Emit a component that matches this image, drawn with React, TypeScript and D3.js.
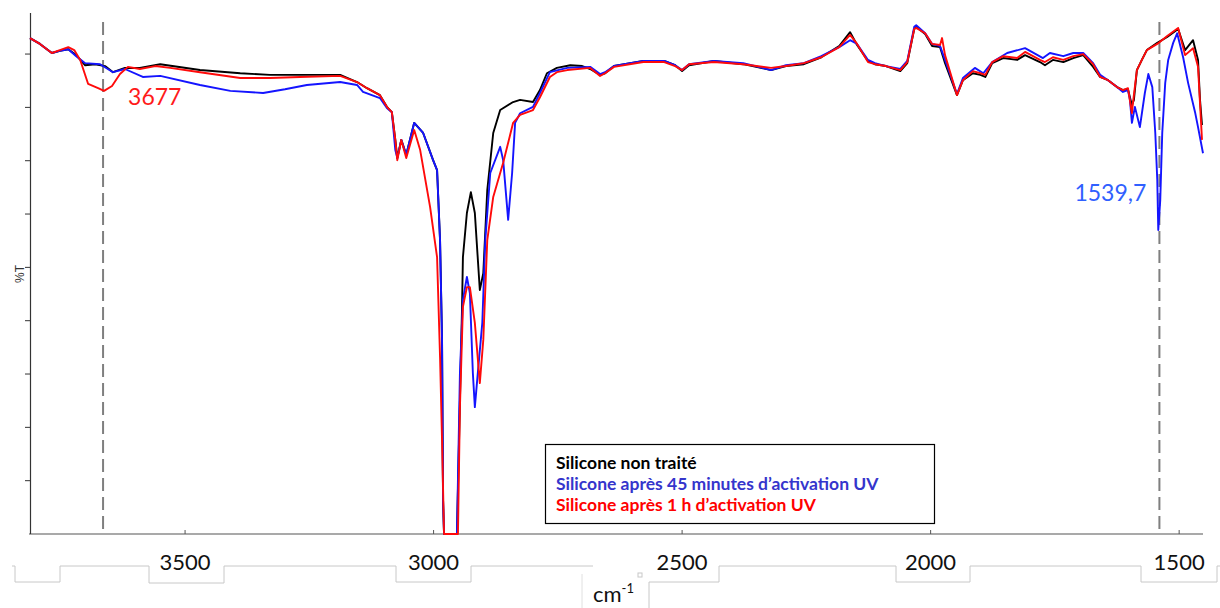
import React, { useEffect, useRef } from 'react';
import * as d3 from 'd3';

type Pt = [number, number];

// wavenumber (cm-1), transmission (arbitrary %T)
const untreated: Pt[] = [
  [3812, 93.0], [3792, 91.9], [3768, 90.2], [3752, 90.6], [3735, 90.9], [3719, 89.8], [3701, 87.9], [3681, 88.1],
  [3661, 87.75], [3645, 86.6], [3621, 87.4], [3591, 87.4], [3550, 88.1], [3470, 87.0], [3389, 86.4], [3329, 86.1],
  [3269, 86.1], [3188, 86.1], [3154, 84.75], [3134, 83.6], [3108, 82.3], [3094, 80.1], [3084, 79.1], [3077, 73.9],
  [3073, 70.5], [3065, 73.9], [3055, 71.1], [3039, 77.1], [3021, 75.2], [3001, 70.1], [2993, 68.25], [2987, 55.1],
  [2983, 36.4], [2981, 6.4], [2979, 0], [2953, 0], [2947, 25.1], [2943, 41.4], [2941, 51.9], [2933, 60.2],
  [2925, 64.1], [2917, 60.2], [2907, 45.75], [2900, 48.9], [2892, 64.5], [2880, 75.2], [2866, 79.5], [2840, 81.0],
  [2826, 81.4], [2800, 81.0], [2786, 83.25], [2772, 86.4], [2752, 87.4], [2725, 87.9], [2701, 87.75], [2685, 87.2],
  [2665, 86.1], [2655, 86.4], [2637, 87.75], [2578, 88.7], [2536, 88.7], [2514, 87.9], [2500, 86.8], [2486, 87.9],
  [2436, 88.7], [2377, 88.1], [2321, 87.0], [2291, 87.75], [2255, 88.1], [2220, 89.4], [2184, 91.5], [2162, 94.1],
  [2148, 91.7], [2126, 88.7], [2112, 88.1], [2090, 87.75], [2061, 86.8], [2047, 88.3], [2033, 94.7], [2029, 95.1],
  [2011, 93.75], [1997, 91.5], [1981, 91.3], [1971, 88.3], [1947, 82.3], [1935, 85.1], [1915, 86.4], [1900, 86.1],
  [1890, 85.7], [1876, 88.3], [1854, 89.25], [1826, 88.9], [1810, 89.8], [1780, 88.5], [1770, 87.9], [1754, 88.9],
  [1733, 88.5], [1713, 89.25], [1693, 89.8], [1673, 87.6], [1659, 85.7], [1643, 85.1], [1625, 83.8], [1613, 83.25],
  [1603, 83.4], [1595, 80.4], [1591, 81.4], [1585, 87.0], [1575, 88.9], [1565, 90.75], [1544, 92.1], [1524, 93.2],
  [1502, 94.7], [1488, 90.75], [1472, 92.6], [1462, 88.9], [1458, 81.4], [1454, 76.7],
];

const uv45min: Pt[] = [
  [3812, 93.0], [3792, 91.9], [3768, 90.2], [3752, 90.6], [3735, 90.9], [3719, 89.6], [3701, 88.3], [3671, 88.1],
  [3645, 86.6], [3621, 87.2], [3585, 85.7], [3550, 85.9], [3470, 84.2], [3409, 83.1], [3343, 82.7], [3299, 83.4],
  [3255, 84.2], [3188, 84.75], [3154, 84.2], [3142, 82.9], [3108, 81.75], [3094, 79.9], [3084, 79.1], [3077, 72.0],
  [3073, 70.5], [3065, 73.9], [3055, 71.1], [3039, 77.1], [3021, 75.2], [3001, 70.1], [2993, 68.25], [2987, 55.1],
  [2983, 36.4], [2981, 6.4], [2979, 0], [2953, 0], [2947, 30.2], [2941, 43.9], [2933, 48.2], [2927, 45.2],
  [2921, 30.2], [2917, 23.8], [2911, 30.2], [2902, 39.6], [2896, 55.1], [2886, 67.7], [2866, 72.6], [2860, 70.1],
  [2850, 58.9], [2842, 67.7], [2836, 77.1], [2826, 78.9], [2800, 80.1], [2786, 82.7], [2766, 86.6], [2731, 87.4],
  [2685, 87.6], [2665, 86.25], [2655, 86.6], [2637, 87.75], [2578, 88.7], [2536, 88.7], [2514, 87.9], [2500, 87.0],
  [2486, 88.1], [2436, 88.7], [2377, 88.3], [2321, 87.0], [2291, 87.9], [2255, 88.3], [2220, 89.6], [2184, 91.3],
  [2162, 92.6], [2148, 91.9], [2126, 88.9], [2112, 88.3], [2090, 87.75], [2061, 87.2], [2047, 88.7], [2033, 95.1],
  [2029, 95.4], [2011, 93.9], [1997, 91.9], [1981, 91.5], [1971, 88.9], [1947, 82.5], [1935, 85.5], [1911, 87.4],
  [1894, 86.4], [1876, 88.5], [1846, 90.2], [1810, 91.1], [1774, 89.25], [1760, 90.2], [1733, 89.6], [1713, 90.2],
  [1693, 90.2], [1673, 88.3], [1659, 86.1], [1643, 85.1], [1625, 83.8], [1613, 82.9], [1603, 83.25], [1599, 81.4],
  [1595, 77.1], [1589, 80.1], [1579, 76.3], [1569, 82.7], [1562, 86.25], [1554, 83.8], [1548, 75.2], [1544, 66.4],
  [1542, 57.0], [1538, 62.6], [1534, 75.2], [1528, 84.6], [1522, 88.9], [1512, 92.1], [1504, 93.9], [1492, 89.4],
  [1482, 84.6], [1468, 79.1], [1462, 76.3], [1452, 71.4],
];

const uv1h: Pt[] = [
  [3812, 93.0], [3792, 91.9], [3768, 90.2], [3752, 90.75], [3735, 91.3], [3723, 90.75], [3711, 88.9], [3695, 84.4],
  [3675, 83.6], [3663, 83.1], [3647, 84.0], [3631, 86.25], [3615, 87.6], [3591, 87.2], [3560, 87.75], [3530, 87.4],
  [3470, 86.6], [3389, 85.5], [3329, 85.5], [3269, 85.7], [3188, 85.9], [3154, 84.75], [3134, 83.6], [3108, 82.3],
  [3094, 80.1], [3084, 79.1], [3077, 73.9], [3073, 70.1], [3065, 73.9], [3055, 70.5], [3039, 75.75], [3027, 72.0],
  [3007, 61.3], [2993, 51.9], [2987, 33.2], [2983, 17.6], [2979, 0], [2951, 0], [2947, 23.8], [2941, 42.6],
  [2933, 46.3], [2927, 46.3], [2917, 39.6], [2907, 28.3], [2900, 36.4], [2892, 55.1], [2880, 63.2], [2860, 69.6],
  [2840, 77.1], [2826, 78.6], [2800, 79.5], [2786, 81.9], [2766, 85.7], [2752, 86.6], [2731, 87.0], [2685, 87.4],
  [2665, 85.9], [2655, 86.4], [2637, 87.6], [2578, 88.5], [2536, 88.5], [2514, 87.75], [2500, 87.0], [2486, 88.1],
  [2436, 88.5], [2377, 88.1], [2321, 87.4], [2291, 87.75], [2255, 88.3], [2220, 89.4], [2184, 91.3], [2162, 93.6],
  [2148, 91.9], [2126, 88.5], [2112, 88.1], [2090, 87.75], [2061, 87.0], [2047, 88.5], [2033, 94.7], [2029, 94.9],
  [2011, 93.9], [1997, 91.9], [1981, 91.7], [1977, 93.0], [1971, 89.8], [1947, 82.3], [1935, 85.1], [1915, 86.8],
  [1900, 86.4], [1890, 86.1], [1876, 88.5], [1854, 89.6], [1826, 89.25], [1810, 90.4], [1780, 88.9], [1770, 88.5],
  [1754, 89.4], [1733, 88.9], [1713, 89.6], [1693, 90.0], [1673, 88.1], [1659, 85.7], [1643, 85.1], [1625, 83.8],
  [1613, 83.25], [1603, 83.6], [1595, 78.9], [1593, 80.8], [1585, 87.0], [1575, 88.9], [1565, 90.75], [1544, 91.9],
  [1524, 93.4], [1502, 94.9], [1488, 89.8], [1472, 91.1], [1462, 87.6], [1454, 73.9],
];

const series = [
  { name: 'Silicone non traité', data: untreated, color: '#000000', legendColor: '#000000' },
  { name: 'Silicone après 45 minutes d’activation UV', data: uv45min, color: '#1414ff', legendColor: '#3535cc' },
  { name: 'Silicone après 1 h d’activation UV', data: uv1h, color: '#ff0a0a', legendColor: '#ff0000' },
];

const xTicks = [3500, 3000, 2500, 2000, 1500];
const yTicks = [10, 20, 30, 40, 50, 60, 70, 80, 90];

// dashed marker lines: position, label as printed
const markers = [
  { at: 3665, label: '3677', color: '#ff1a1a', dx: 25, y: 80.5 },
  { at: 1539.7, label: '1539,7', color: '#3060ff', dx: -85, y: 62.5 },
];

// decorative grey step outline under the tick labels
const stepPath: [number, number][] = [
  [12, 566], [15, 566], [15, 582], [60, 582], [60, 566], [149, 566], [149, 583], [224, 583], [224, 566],
  [396, 566], [396, 582], [471, 582], [471, 566], [593, 566],
];
const stepPathRight: [number, number][] = [
  [649, 608], [649, 582], [719, 582], [719, 566], [896, 566], [896, 582], [970, 582], [970, 566],
  [1141, 566], [1141, 582], [1217, 582], [1217, 566], [1220, 566],
];

const W = 1220;
const H = 608;
const FONT = 'Lato, "Open Sans", sans-serif';

const SpectrumChart: React.FC = () => {
  const svgRef = useRef<SVGSVGElement>(null);

  useEffect(() => {
    const svg = d3.select(svgRef.current);
    svg.selectAll('*').remove();

    const x = d3.scaleLinear().domain([3812, 1452]).range([30, 1203]);
    const y = d3.scaleLinear().domain([0, 97.7]).range([534, 13]);

    // step decoration
    const stepLine = d3.line<[number, number]>().x(d => d[0]).y(d => d[1]);
    [stepPath, stepPathRight].forEach(p => {
      svg.append('path')
        .attr('d', stepLine(p))
        .attr('fill', 'none')
        .attr('stroke', '#c8c8c8')
        .attr('stroke-width', 1);
    });
    svg.append('line')
      .attr('x1', 582).attr('x2', 582).attr('y1', 574).attr('y2', 608)
      .attr('stroke', '#e0e0e0');
    svg.append('rect')
      .attr('x', 638).attr('y', 573).attr('width', 4).attr('height', 4)
      .attr('fill', 'none').attr('stroke', '#c8c8c8');

    // dashed marker lines
    markers.forEach(m => {
      svg.append('line')
        .attr('x1', x(m.at)).attr('x2', x(m.at))
        .attr('y1', 22).attr('y2', 534)
        .attr('stroke', '#7f7f7f')
        .attr('stroke-width', 2)
        .attr('stroke-dasharray', '13,6');
    });

    // axes
    svg.append('line')
      .attr('x1', 29).attr('x2', 1203)
      .attr('y1', y(0)).attr('y2', y(0))
      .attr('stroke', '#555').attr('stroke-width', 1.2);
    svg.append('line')
      .attr('x1', 30.5).attr('x2', 30.5)
      .attr('y1', 13).attr('y2', y(0))
      .attr('stroke', '#333').attr('stroke-width', 1.2);

    svg.selectAll('.ytick')
      .data(yTicks)
      .enter()
      .append('line')
      .attr('class', 'ytick')
      .attr('x1', 25).attr('x2', 30)
      .attr('y1', d => y(d)).attr('y2', d => y(d))
      .attr('stroke', '#333');

    svg.selectAll('.xtick')
      .data(xTicks)
      .enter()
      .append('line')
      .attr('class', 'xtick')
      .attr('x1', d => x(d)).attr('x2', d => x(d))
      .attr('y1', y(0) - 4).attr('y2', y(0))
      .attr('stroke', '#555');

    svg.selectAll('.xlabel')
      .data(xTicks)
      .enter()
      .append('text')
      .attr('class', 'xlabel')
      .attr('x', d => x(d))
      .attr('y', 570)
      .attr('text-anchor', 'middle')
      .attr('font-family', FONT)
      .attr('font-size', '22px')
      .attr('fill', '#111')
      .text(d => String(d));

    // spectra
    const line = d3.line<Pt>()
      .x(d => x(d[0]))
      .y(d => y(d[1]));

    series.forEach(s => {
      svg.append('path')
        .datum(s.data)
        .attr('d', line)
        .attr('fill', 'none')
        .attr('stroke', s.color)
        .attr('stroke-width', 1.9)
        .attr('stroke-linejoin', 'round');
    });

    // marker labels
    markers.forEach(m => {
      svg.append('text')
        .attr('x', x(m.at) + m.dx)
        .attr('y', y(m.y))
        .attr('font-family', FONT)
        .attr('font-size', '23px')
        .attr('fill', m.color)
        .text(m.label);
    });

    // legend
    const lg = svg.append('g');
    lg.append('rect')
      .attr('x', 545.5).attr('y', 444.5)
      .attr('width', 389).attr('height', 79)
      .attr('fill', '#fff')
      .attr('stroke', '#000')
      .attr('stroke-width', 1.2);
    series.forEach((s, i) => {
      lg.append('text')
        .attr('x', 556)
        .attr('y', 469 + i * 21)
        .attr('font-family', FONT)
        .attr('font-weight', 'bold')
        .attr('font-size', '17.5px')
        .attr('fill', s.legendColor)
        .text(s.name);
    });

    // axis titles
    const cm = svg.append('text')
      .attr('x', 593)
      .attr('y', 602)
      .attr('font-family', FONT)
      .attr('font-size', '22px')
      .attr('fill', '#111');
    cm.append('tspan').text('cm');
    cm.append('tspan')
      .attr('dy', -9)
      .attr('font-size', '13px')
      .text('-1');

    svg.append('text')
      .attr('transform', 'translate(24,274) rotate(-90)')
      .attr('text-anchor', 'middle')
      .attr('font-family', '"Liberation Sans", Arial, sans-serif')
      .attr('font-size', '12px')
      .attr('fill', '#333')
      .text('%T');
  }, []);

  return (
    <svg
      ref={svgRef}
      width={W}
      height={H}
      style={{ position: 'absolute', left: 0, top: 0, background: '#fff' }}
    />
  );
};

export default function App() {
  return <SpectrumChart />;
}
